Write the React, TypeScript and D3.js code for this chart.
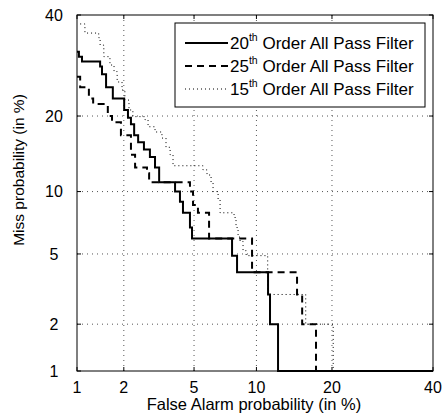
import React from "react";
import * as d3 from "d3";

// DET curves, values in percent (false alarm, miss)
const faTicks = [1, 2, 5, 10, 20, 40];
const missTicks = [1, 2, 5, 10, 20, 40];

const fa20 = [1.0, 1.03, 1.08, 1.42, 1.46, 1.55, 1.71, 2.01, 2.12, 2.21, 2.31, 2.44, 2.64, 2.86, 3.06, 3.23, 3.96, 4.21, 4.37, 4.76, 4.88, 7.73, 8.16, 11.24, 11.46, 12.39, 40];
const miss20 = [32, 31, 30, 29, 27.5, 25, 23, 21, 19.7, 18.7, 17, 16, 15, 14, 12.7, 11, 10, 9, 8, 6.8, 6, 4.9, 4, 3, 2, 1, 1];

const fa25 = [1.0, 1.05, 1.2, 1.28, 1.59, 1.69, 1.92, 2.21, 2.34, 2.75, 2.83, 4.76, 4.94, 5.24, 5.97, 9.56, 14.8, 15.5, 17.5, 40];
const miss25 = [27, 25, 23, 22, 20, 19, 17, 14.3, 12.7, 12, 11, 10, 8.7, 8, 6, 4, 3, 2, 1, 1];

const fa15 = [1.05, 1.13, 1.39, 1.42, 1.5, 1.64, 1.74, 1.82, 1.95, 2.03, 2.15, 2.27, 2.68, 2.79, 3.06, 3.35, 3.53, 3.72, 3.86, 5.56, 5.83, 6.11, 6.25, 6.62, 6.77, 7.9, 8.07, 8.25, 8.43, 8.7, 8.99, 11.2, 16.0, 20.2, 40];
const miss15 = [38, 36, 35, 33.4, 31, 29.3, 28, 26, 24.5, 22.7, 21, 19.9, 19.4, 18.3, 17.5, 16.6, 15.3, 14.3, 12.9, 12.4, 11.8, 10.9, 10, 9.2, 8, 7.6, 6.8, 6.1, 5.8, 5.2, 4.9, 3, 2, 1, 1];

const seriesNames = ["20", "25", "15"];

// inverse normal cdf (Acklam)
function probit(p: number): number {
  const a = [-39.69683028665376, 220.9460984245205, -275.9285104469687, 138.357751867269, -30.66479806614716, 2.506628277459239];
  const b = [-54.47609879822406, 161.5858368580409, -155.6989798598866, 66.80131188771972, -13.28068155288572];
  const c = [-0.007784894002430293, -0.3223964580411365, -2.400758277161838, -2.549732539343734, 4.374664141464968, 2.938163982698783];
  const d = [0.007784695709041462, 0.3224671290700398, 2.445134137142996, 3.754408661907416];
  const pl = 0.02425;
  if (p < pl) {
    const q = Math.sqrt(-2 * Math.log(p));
    return (((((c[0] * q + c[1]) * q + c[2]) * q + c[3]) * q + c[4]) * q + c[5]) /
      ((((d[0] * q + d[1]) * q + d[2]) * q + d[3]) * q + 1);
  }
  if (p <= 1 - pl) {
    const q = p - 0.5;
    const r = q * q;
    return ((((((a[0] * r + a[1]) * r + a[2]) * r + a[3]) * r + a[4]) * r + a[5]) * q) /
      (((((b[0] * r + b[1]) * r + b[2]) * r + b[3]) * r + b[4]) * r + 1);
  }
  const q = Math.sqrt(-2 * Math.log(1 - p));
  return -(((((c[0] * q + c[1]) * q + c[2]) * q + c[3]) * q + c[4]) * q + c[5]) /
    ((((d[0] * q + d[1]) * q + d[2]) * q + d[3]) * q + 1);
}

const W = 442;
const H = 415;
const left = 77, right = 433, top = 15, bottom = 371;
const font = "'Liberation Sans', Arial, Helvetica, sans-serif";

const App: React.FC = () => {
  const xz = d3.scaleLinear().domain([probit(0.01), probit(0.4)]).range([left, right]);
  const yz = d3.scaleLinear().domain([probit(0.01), probit(0.4)]).range([bottom, top]);
  const x = (v: number) => xz(probit(v / 100));
  const y = (v: number) => yz(probit(v / 100));

  const line = d3
    .line<[number, number]>()
    .x((d) => x(d[0]))
    .y((d) => y(d[1]))
    .curve(d3.curveStepAfter);

  const zip = (a: number[], b: number[]) => a.map((v, i) => [v, b[i]] as [number, number]);

  const series = [
    { pts: zip(fa20, miss20), width: 2, dash: "none" },
    { pts: zip(fa25, miss25), width: 2, dash: "7,5" },
    { pts: zip(fa15, miss15), width: 1, dash: "1,3" },
  ];

  const gridStyle = { stroke: "#555", strokeWidth: 1, strokeDasharray: "1,4" };

  return (
    <svg width={W} height={H} style={{ position: "absolute", left: 0, top: 0, background: "#fff" }}>
      <defs>
        <clipPath id="plot">
          <rect x={left - 2} y={top - 2} width={right - left + 4} height={bottom - top + 4} />
        </clipPath>
      </defs>
      <rect x={0} y={0} width={W} height={H} fill="#fff" />

      {/* grid */}
      {faTicks.slice(1, -1).map((t) => (
        <line key={"gx" + t} x1={x(t)} x2={x(t)} y1={top} y2={bottom} {...gridStyle} />
      ))}
      {missTicks.slice(1, -1).map((t) => (
        <line key={"gy" + t} x1={left} x2={right} y1={y(t)} y2={y(t)} {...gridStyle} />
      ))}

      {/* curves */}
      <g clipPath="url(#plot)">
        {series.map((s, i) => (
          <path
            key={i}
            d={line(s.pts) || ""}
            fill="none"
            stroke="#000"
            strokeWidth={s.width}
            strokeDasharray={s.dash}
          />
        ))}
      </g>

      {/* frame + ticks */}
      <rect x={left} y={top} width={right - left} height={bottom - top} fill="none" stroke="#000" strokeWidth={1} />
      {faTicks.map((t) => (
        <g key={"tx" + t}>
          <line x1={x(t)} x2={x(t)} y1={bottom} y2={bottom - 4} stroke="#000" />
          <line x1={x(t)} x2={x(t)} y1={top} y2={top + 4} stroke="#000" />
          <text x={x(t)} y={393} textAnchor="middle" fontFamily={font} fontSize={16}>
            {t}
          </text>
        </g>
      ))}
      {missTicks.map((t) => (
        <g key={"ty" + t}>
          <line x1={left} x2={left + 4} y1={y(t)} y2={y(t)} stroke="#000" />
          <line x1={right} x2={right - 4} y1={y(t)} y2={y(t)} stroke="#000" />
          <text x={54} y={y(t)} dy="0.35em" textAnchor="middle" fontFamily={font} fontSize={16}>
            {t}
          </text>
        </g>
      ))}

      <text x={(left + right) / 2 - 1} y={410} textAnchor="middle" fontFamily={font} fontSize={16.5}>
        False Alarm probability (in %)
      </text>
      <text
        transform={`translate(24,${(top + bottom) / 2 - 23}) rotate(-90)`}
        textAnchor="middle"
        fontFamily={font}
        fontSize={15.5}
      >
        Miss probability (in %)
      </text>

      {/* legend */}
      <rect x={175} y={23} width={250} height={84} fill="#fff" stroke="#000" strokeWidth={1} />
      {series.map((s, i) => {
        const ly = 43 + i * 23;
        return (
          <g key={"lg" + i}>
            <line x1={185} x2={228} y1={ly} y2={ly} stroke="#000" strokeWidth={s.width} strokeDasharray={s.dash} />
            <text x={230} y={ly} dy="0.35em" fontFamily={font} fontSize={17}>
              {seriesNames[i]}
              <tspan fontSize={10.5} dy="-0.75em">th</tspan>
              <tspan dy="0.47em"> Order All Pass Filter</tspan>
            </text>
          </g>
        );
      })}
    </svg>
  );
};

export default App;
